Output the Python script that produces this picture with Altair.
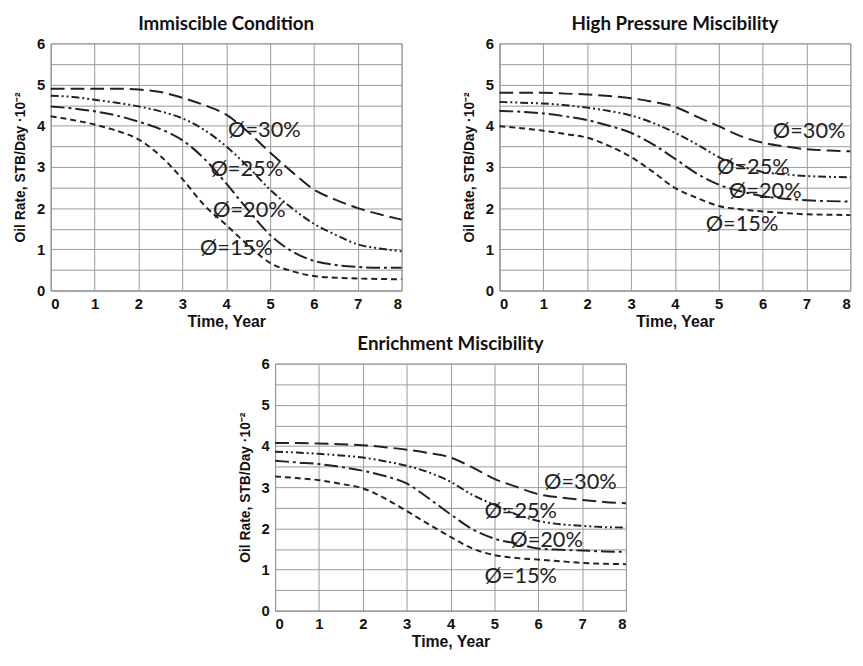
import altair as alt
import pandas as pd

years = [0, 0.5, 1, 1.5, 2, 2.5, 3, 3.5, 4, 4.5, 5, 5.5, 6, 6.5, 7, 7.5, 8]
series_names = ["30%", "25%", "20%", "15%"]
dash_styles = [[14, 6], [8, 3, 2, 3, 2, 3], [14, 4, 3, 4], [6, 4]]

# Immiscible Condition
imm_30 = [4.9, 4.9, 4.9, 4.9, 4.88, 4.82, 4.68, 4.5, 4.27, 3.85, 3.35, 2.88, 2.45, 2.2, 2.0, 1.85, 1.72]
imm_25 = [4.73, 4.7, 4.63, 4.56, 4.47, 4.35, 4.18, 3.9, 3.5, 3.0, 2.45, 2.0, 1.62, 1.35, 1.12, 1.02, 0.95]
imm_20 = [4.47, 4.42, 4.35, 4.25, 4.1, 3.92, 3.65, 3.2, 2.6, 1.95, 1.35, 0.95, 0.72, 0.62, 0.57, 0.55, 0.55]
imm_15 = [4.23, 4.14, 4.03, 3.88, 3.67, 3.27, 2.71, 2.07, 1.59, 1.1, 0.67, 0.47, 0.35, 0.31, 0.29, 0.28, 0.27]
imm_lab_x = [4.87, 4.47, 4.53, 4.23]
imm_lab_y = [3.9, 2.95, 1.95, 1.03]

# High Pressure Miscibility
hpm_30 = [4.8, 4.8, 4.8, 4.78, 4.76, 4.72, 4.67, 4.58, 4.46, 4.22, 3.99, 3.75, 3.59, 3.5, 3.43, 3.4, 3.38]
hpm_25 = [4.58, 4.56, 4.54, 4.5, 4.44, 4.36, 4.25, 4.07, 3.83, 3.55, 3.24, 3.02, 2.88, 2.82, 2.78, 2.76, 2.75]
hpm_20 = [4.36, 4.34, 4.3, 4.23, 4.14, 4.0, 3.83, 3.55, 3.2, 2.84, 2.57, 2.41, 2.29, 2.23, 2.19, 2.17, 2.16]
hpm_15 = [3.99, 3.94, 3.88, 3.8, 3.71, 3.51, 3.24, 2.88, 2.49, 2.25, 2.05, 1.97, 1.92, 1.88, 1.85, 1.84, 1.83]
hpm_lab_x = [7.06, 5.79, 6.06, 5.53]
hpm_lab_y = [3.87, 3.0, 2.42, 1.62]

# Enrichment Miscibility
enr_30 = [4.07, 4.07, 4.06, 4.04, 4.02, 3.97, 3.91, 3.83, 3.72, 3.48, 3.2, 3.01, 2.83, 2.75, 2.69, 2.64, 2.61]
enr_25 = [3.86, 3.84, 3.81, 3.77, 3.72, 3.63, 3.52, 3.36, 3.13, 2.81, 2.57, 2.34, 2.18, 2.1, 2.06, 2.03, 2.02]
enr_20 = [3.64, 3.6, 3.56, 3.49, 3.4, 3.27, 3.09, 2.73, 2.34, 1.98, 1.75, 1.63, 1.51, 1.48, 1.46, 1.44, 1.43]
enr_15 = [3.26, 3.22, 3.17, 3.08, 2.97, 2.73, 2.42, 2.1, 1.79, 1.51, 1.35, 1.28, 1.24, 1.2, 1.16, 1.14, 1.13]
enr_lab_x = [6.96, 5.6, 6.19, 5.6]
enr_lab_y = [3.13, 2.42, 1.71, 0.84]

W, H = 355, 250
INK = "#222222"


def panel(title, curves, lab_x, lab_y):
    rows = []
    for name, vals in zip(series_names, curves):
        for t, v in zip(years, vals):
            rows.append({"t": t, "r": v, "s": name})
    df = pd.DataFrame(rows)
    lab_df = pd.DataFrame({"t": lab_x, "r": lab_y,
                           "label": ["Ø=" + n for n in series_names]})
    xenc = alt.X("t:Q", scale=alt.Scale(domain=[0, 8], nice=False),
                 axis=alt.Axis(values=list(range(9)), title="Time, Year", format="d"))
    yenc = alt.Y("r:Q", scale=alt.Scale(domain=[0, 6], nice=False),
                 axis=alt.Axis(values=[i * 0.5 for i in range(13)],
                               labelExpr="datum.value % 1 == 0 ? format(datum.value, 'd') : ''",
                               title="Oil Rate, STB/Day ·10⁻²"))
    lines = alt.Chart(df).mark_line(interpolate="monotone", color=INK, strokeWidth=2).encode(
        x=xenc, y=yenc,
        strokeDash=alt.StrokeDash("s:N", scale=alt.Scale(domain=series_names, range=dash_styles),
                                  legend=None),
        detail="s:N",
    )
    text = alt.Chart(lab_df).mark_text(font="Lato", fontSize=22, color=INK).encode(
        x=xenc, y=yenc, text="label:N"
    )
    return alt.layer(lines, text).properties(width=W, height=H, title=title)


p1 = panel("Immiscible Condition", [imm_30, imm_25, imm_20, imm_15], imm_lab_x, imm_lab_y)
p2 = panel("High Pressure Miscibility", [hpm_30, hpm_25, hpm_20, hpm_15], hpm_lab_x, hpm_lab_y)
p3 = panel("Enrichment Miscibility", [enr_30, enr_25, enr_20, enr_15], enr_lab_x, enr_lab_y)

chart = alt.vconcat(
    alt.hconcat(p1, p2, spacing=56),
    p3,
    spacing=4,
    center=True,
).configure_view(stroke="#999999", strokeWidth=1).configure_axis(
    grid=True, gridColor="#9a9a9a", gridWidth=1, ticks=False,
    domainColor="#999999",
    labelFont="Liberation Sans", labelFontWeight="bold", labelFontSize=15, labelColor="#111111",
    labelPadding=6,
    titleFont="Liberation Sans", titleFontWeight="bold", titleColor="#111111",
    titlePadding=4,
).configure_axisX(titleFontSize=16, titlePadding=2).configure_axisY(
    titleFontSize=14, titlePadding=9
).configure_title(
    font="Lato", fontSize=19, fontWeight="bold", color="#111111", anchor="middle", offset=3
).properties(padding={"left": 5, "top": 2, "right": 0, "bottom": 0})

chart.save("out.html", embed_options={"renderer": "svg", "actions": False})
